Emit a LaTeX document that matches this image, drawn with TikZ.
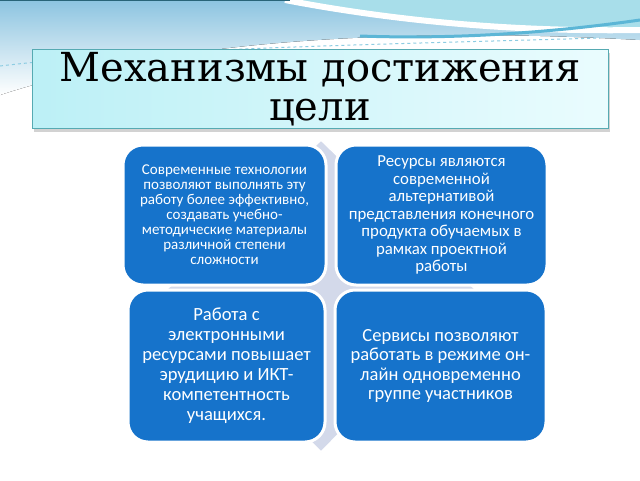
\documentclass[tikz,border=0pt]{standalone}
\usepackage{fontspec}
\setmainfont{Carlito}
\newfontfamily\titlefont{DejaVu Serif}
\usetikzlibrary{positioning,shadows}

\definecolor{boxblue}{RGB}{22,115,203}
\definecolor{diamondgrey}{RGB}{211,217,234}
\definecolor{titleborder}{RGB}{86,170,178}
\definecolor{titlecyan}{RGB}{188,240,246}
\definecolor{titlelight}{RGB}{234,252,254}
\definecolor{skyblue}{RGB}{140,196,224}
\definecolor{skycyan}{RGB}{168,222,234}
\definecolor{waveblue}{RGB}{92,182,214}
\definecolor{darkteal}{RGB}{40,100,120}

\tikzset{
  box/.style={draw=white, line width=3pt, fill=boxblue, rounded corners=20pt,
    text=white, align=center, inner sep=0pt},
  titlebox/.style={draw=titleborder, line width=0.8pt, left color=titlecyan,
    right color=titlelight, align=center, inner sep=0pt,
    drop shadow={shadow xshift=2pt, shadow yshift=-3pt, opacity=0.35}},
}

\begin{document}
\begin{tikzpicture}[x=1pt,y=-1pt]
  \fill[white] (0,0) rectangle (640,480);
  \useasboundingbox (0,0) rectangle (640,480);

  % top wave
  \fill[top color=skyblue, bottom color=white] (0,0) -- (640,0) -- (640,40)
    .. controls (460,30) and (200,30) .. (0,95) -- cycle;
  \fill[skycyan] (285,0) -- (640,0) -- (640,28) .. controls (520,30) and (400,20) .. (285,0) -- cycle;
  \draw[white, line width=6pt] (285,0) .. controls (400,22) and (520,32) .. (640,30);
  \draw[waveblue, line width=3pt] (360,36) .. controls (470,40) and (570,30) .. (640,20);
  \draw[waveblue!70, dashed, line width=1pt] (0,66) .. controls (150,48) and (400,44) .. (600,38);
  \draw[darkteal, line width=2pt] (0,0) -- (290,0);

  % title
  \node (title) [titlebox, minimum width=576pt, minimum height=79pt,
    font=\titlefont\fontsize{40}{39}\selectfont] at (320,89)
    {Механизмы достижения\\ цели};

  % background diamond
  \filldraw[fill=diamondgrey, draw=white, line width=1.5pt]
    (321,140) -- (478,292) -- (321,452) -- (164,292) -- cycle;

  % matrix
  \node (b11) [box, minimum width=203pt, minimum height=140pt,
    font=\fontsize{15}{15}\selectfont] at (224.5,215)
    {Современные технологии\\ позволяют выполнять эту\\ работу более эффективно,\\ создавать учебно-\\ методические материалы\\ различной степени\\ сложности};
  \node (b12) [box, minimum width=211pt, minimum height=140pt,
    font=\fontsize{16.8}{17.5}\selectfont] at (441.5,215)
    {Ресурсы являются\\ современной\\ альтернативой\\ представления конечного\\ продукта обучаемых в\\ рамках проектной\\ работы};
  \node (b21) [box, minimum width=197pt, minimum height=152pt,
    font=\fontsize{18.6}{20}\selectfont] at (226.5,366)
    {Работа с\\ электронными\\ ресурсами повышает\\ эрудицию и ИКТ-\\ компетентность\\ учащихся.};
  \node (b22) [box, minimum width=211pt, minimum height=152pt,
    font=\fontsize{18.5}{19.5}\selectfont] at (440.5,366)
    {Сервисы позволяют\\ работать в режиме он-\\ лайн одновременно\\ группе участников};
\end{tikzpicture}
\end{document}
